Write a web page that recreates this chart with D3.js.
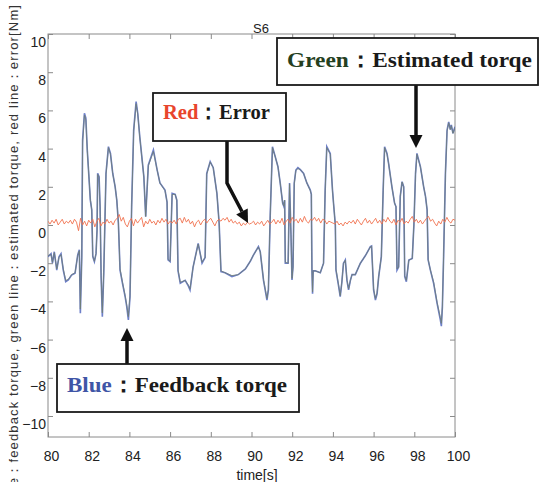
<!DOCTYPE html>
<head>
  <meta http-equiv="Content-Type" content="text/html; charset=utf-8">
  <style>
    body { margin: 0; background: #fff; }
    .tick text { font-family: "Liberation Sans", Arial, sans-serif; font-size: 14px; fill: #222; }
    .tick line { stroke: #8a8a8a; }
    .domain { display: none; }
  </style>
</head>
<body></body>
<script src="https://d3js.org/d3.v7.min.js"></script>
<script>

var width = 544,
    height = 482;

// (s, Nm)
var time = [80.0, 80.15, 80.22, 80.31, 80.43, 80.54, 80.64, 80.75, 80.87, 81.0, 81.16, 81.33, 81.46, 81.54, 81.59, 81.66, 81.7, 81.79, 81.86, 81.93,
            82.02, 82.08, 82.15, 82.2, 82.28, 82.36, 82.41, 82.44, 82.51, 82.56, 82.61, 82.67, 82.74, 82.85, 82.97, 83.07, 83.18, 83.3, 83.38, 83.46,
            83.54, 83.66, 83.79, 83.87, 83.95, 84.03, 84.11, 84.21, 84.33, 84.41, 84.51, 84.61, 84.71, 84.77, 84.8, 84.93, 85.18, 85.36, 85.5, 85.75,
            85.85, 85.9, 86.0, 86.1, 86.25, 86.33, 86.39, 86.5, 86.74, 86.9, 86.98, 87.13, 87.38, 87.48, 87.57, 87.72, 87.8, 87.97, 88.12, 88.3,
            88.41, 88.5, 88.7, 89.04, 89.35, 89.7, 89.94, 90.08, 90.34, 90.43, 90.59, 90.76, 90.83, 90.92, 91.03, 91.16, 91.3, 91.41, 91.53, 91.58,
            91.63, 91.66, 91.8, 91.87, 91.94, 91.99, 92.04, 92.1, 92.18, 92.28, 92.4, 92.56, 92.72, 92.89, 92.94, 92.97, 93.0, 93.03, 93.13, 93.38,
            93.54, 93.62, 93.7, 93.87, 93.98, 94.03, 94.12, 94.15, 94.28, 94.36, 94.44, 94.52, 94.61, 94.69, 94.77, 94.86, 94.94, 95.1, 95.35, 95.6,
            95.84, 95.9, 95.94, 96.0, 96.09, 96.17, 96.25, 96.38, 96.47, 96.54, 96.66, 96.74, 96.9, 97.03, 97.1, 97.15, 97.23, 97.31, 97.4, 97.48,
            97.53, 97.61, 97.73, 97.9, 97.98, 98.06, 98.13, 98.3, 98.46, 98.55, 98.63, 98.68, 98.79, 98.95, 99.12, 99.28, 99.33, 99.38, 99.44, 99.53,
            99.61, 99.69, 99.77, 99.82, 99.9, 100.0];

var feedback = [-1.66, -1.5, -2.0, -1.4, -2.36, -1.66, -1.5, -2.36, -2.97, -2.88, -2.62, -2.53, -1.57, -1.3, -4.62, -1.66, 4.45, 5.85, 5.6, 3.93,
                2.36, 1.3, 0.79, -1.66, -1.92, -1.5, -0.26, 2.71, 2.53, 0.96, -2.71, -4.8, -2.53, 2.71, 4.1, 3.75, 2.71, 2.0, 1.3, 0.08,
                -2.36, -3.05, -3.75, -4.27, -4.97, -3.75, 0.96, 4.97, 6.46, 5.85, 4.62, 3.58, 2.53, 1.13, 0.43, 3.14, 3.93, 2.9, 2.2, 1.83,
                1.2, -1.83, -1.92, 1.66, 1.6, 1.3, -2.4, -3.05, -2.9, -3.2, -3.4, -2.2, -0.96, -1.5, -2.0, -1.7, 2.7, 3.32, 3.0, 1.66,
                0.09, -2.44, -2.5, -2.7, -2.6, -2.3, -1.9, -1.6, -1.13, -1.4, -2.9, -3.93, -3.4, 0.5, 4.1, 3.6, 3.05, 2.2, 1.15, 1.0,
                1.3, -2.0, -2.0, 2.2, -0.5, -2.88, -2.2, 2.2, 2.88, 3.0, 2.9, 2.7, 2.2, 1.83, 1.6, -2.36, -3.6, -2.4, -2.4, -2.5,
                -2.0, 1.83, 4.1, 3.75, 1.83, 1.15, 0.0, -2.36, -3.2, -3.75, -3.0, -2.0, -1.83, -2.9, -3.4, -2.9, -2.6, -2.6, -2.0, -1.6,
                -1.13, -1.1, -2.0, -3.4, -3.93, -3.6, -2.7, -1.66, 1.83, 4.1, 3.75, 3.2, 2.0, 1.15, 0.96, -2.36, -2.2, 1.5, 2.27, 2.0,
                -2.7, -2.97, -1.83, -1.75, 0.0, 2.7, 3.75, 3.05, 2.0, 1.5, 0.79, -1.83, -2.36, -3.05, -4.1, -4.97, -5.3, -4.3, -1.66, 2.71,
                4.97, 5.4, 5.0, 5.24, 4.8, 5.15];

var estimated = [-1.6, -1.55, -1.95, -1.45, -2.3, -1.7, -1.55, -2.3, -2.9, -2.85, -2.6, -2.5, -1.6, -1.35, -4.4, -1.7, 4.3, 5.75, 5.5, 3.9,
                 2.4, 1.35, 0.8, -1.6, -1.9, -1.5, -0.3, 2.65, 2.5, 0.95, -2.65, -4.6, -2.5, 2.65, 4.05, 3.7, 2.7, 2.0, 1.3, 0.1,
                 -2.3, -3.0, -3.7, -4.2, -4.8, -3.7, 0.9, 4.9, 6.35, 5.8, 4.6, 3.55, 2.5, 1.15, 0.45, 3.1, 3.85, 2.9, 2.2, 1.8,
                 1.2, -1.8, -1.9, 1.6, 1.6, 1.3, -2.35, -3.0, -2.9, -3.15, -3.35, -2.2, -1.0, -1.5, -1.95, -1.7, 2.65, 3.3, 3.0, 1.65,
                 0.1, -2.4, -2.5, -2.65, -2.6, -2.3, -1.9, -1.6, -1.15, -1.4, -2.85, -3.85, -3.35, 0.5, 4.05, 3.6, 3.05, 2.2, 1.15, 1.0,
                 1.3, -1.95, -2.0, 2.15, -0.5, -2.8, -2.2, 2.15, 2.85, 2.95, 2.9, 2.7, 2.2, 1.8, 1.6, -2.3, -3.5, -2.4, -2.4, -2.5,
                 -2.0, 1.8, 4.05, 3.7, 1.8, 1.15, 0.0, -2.3, -3.15, -3.7, -3.0, -2.0, -1.85, -2.85, -3.35, -2.9, -2.6, -2.6, -2.0, -1.6,
                 -1.15, -1.1, -2.0, -3.35, -3.85, -3.55, -2.7, -1.65, 1.8, 4.05, 3.7, 3.2, 2.0, 1.15, 0.95, -2.3, -2.2, 1.5, 2.25, 2.0,
                 -2.65, -2.9, -1.85, -1.75, 0.0, 2.65, 3.7, 3.05, 2.0, 1.5, 0.8, -1.8, -2.35, -3.0, -4.05, -4.85, -5.15, -4.25, -1.65, 2.65,
                 4.9, 5.35, 5.0, 5.2, 4.8, 5.1];

// error, one value every 0.1 s from 80 to 100
var errorStart = 80, errorStep = 0.1;
var error = [0.2, 0.05, 0.25, 0.1, 0.3, 0.0, 0.15, 0.3, 0.05, 0.2,
             0.1, 0.25, 0.05, 0.3, 0.15, -0.3, 0.35, 0.0, 0.2, -0.05,
             0.25, 0.1, 0.3, -0.1, 0.2, 0.35, -0.05, 0.15, 0.05, 0.3,
             0.1, 0.2, 0.0, 0.25, 0.35, 0.55, 0.2, 0.4, 0.05, -0.1,
             0.2, 0.35, -0.05, 0.3, 0.1, 0.25, 0.4, -0.1, 0.2, 0.05,
             0.3, 0.1, 0.2, 0.0, 0.25, 0.1, 0.35, 0.15, 0.3, 0.05,
             0.2, 0.1, 0.25, 0.05, 0.3, 0.35, 0.1, 0.4, 0.15, 0.3,
             0.05, 0.2, -0.1, 0.15, 0.25, 0.0, 0.2, 0.3, 0.1, 0.25,
             0.35, 0.15, -0.05, 0.2, 0.3, 0.2, 0.35, 0.25, 0.4, 0.15,
             0.3, 0.1, 0.2, 0.05, 0.15, -0.05, 0.1, 0.0, 0.15, 0.05,
             0.1, 0.2, 0.0, 0.15, 0.05, 0.2, -0.05, 0.1, 0.25, 0.05,
             0.15, 0.3, 0.05, 0.25, 0.1, 0.35, 0.0, 0.2, 0.3, 0.1,
             0.4, 0.2, 0.3, 0.1, 0.35, 0.15, 0.45, 0.2, 0.1, 0.3,
             0.25, 0.4, 0.2, 0.35, 0.1, 0.3, 0.25, 0.05, 0.2, 0.15,
             0.1, 0.05, 0.2, 0.0, 0.1, -0.05, 0.15, 0.05, 0.2, 0.1,
             0.25, 0.05, 0.3, 0.15, 0.0, 0.2, 0.35, 0.1, 0.25, 0.05,
             0.2, 0.35, 0.1, 0.25, 0.05, 0.3, 0.15, 0.4, 0.2, 0.1,
             0.3, 0.0, 0.25, 0.15, 0.35, 0.05, 0.2, 0.1, 0.3, 0.45,
             0.15, 0.3, 0.1, 0.25, 0.05, 0.2, 0.35, 0.45, 0.2, 0.3,
             0.1, -0.05, 0.2, 0.05, 0.3, 0.15, 0.4, 0.2, 0.1, 0.3, 0.25];

var xTicks = [80, 82, 84, 86, 88, 90, 92, 94, 96, 98, 100];
var yTicks = [-10, -8, -6, -4, -2, 0, 2, 4, 6, 8, 10];

var title = "S6",
    xLabel = "time[s]",
    yLabel = "blue line\uff1afeedback torque, green line\uff1aestimated torque, red line\uff1aerror[Nm]";

// callouts: coloured word, rest of the text
var notes = [
  {word: "Green", rest: "\uff1aEstimated torqe", color: "#24401f", box: [277, 38, 538, 85], text: [287, 67, 245], arrow: [[416, 85], [416, 148]]},
  {word: "Red",   rest: "\uff1aError",           color: "#e8452c", box: [153, 93, 286, 141], text: [163, 119, 107], arrow: [[227, 141], [227, 183], [248, 223]]},
  {word: "Blue",  rest: "\uff1aFeedback torqe",  color: "#3f55a6", box: [57, 364, 299, 412], text: [67, 392, 220], arrow: [[127, 364], [127, 328]]}
];

var pLeft = 48, pRight = 455, pTop = 34, pBottom = 437;

var xs = d3.scaleLinear().domain([80, 100]).range([pLeft, pRight]);
var ys = d3.scaleLinear().domain([-11.1, 10]).range([pBottom, pTop]);

var svg = d3.select("body").append("svg")
    .attr("width", width)
    .attr("height", height);

// frame
svg.append("rect")
    .attr("x", pLeft).attr("y", pTop)
    .attr("width", pRight - pLeft).attr("height", pBottom - pTop)
    .attr("fill", "none").attr("stroke", "#8a8a8a").attr("stroke-width", 1);

// axes with ticks pointing in
var ax = svg.append("g").attr("transform", "translate(" + pLeft + ",0)")
    .call(d3.axisLeft(ys).tickValues(yTicks).tickSize(-5).tickPadding(2));
ax.selectAll("text").attr("dy", "0.32em").attr("y", 8);
svg.append("g").attr("transform", "translate(" + pRight + ",0)")
    .call(d3.axisRight(ys).tickValues(yTicks).tickSize(-5).tickFormat(""));
var bx = svg.append("g").attr("transform", "translate(0," + pBottom + ")")
    .call(d3.axisBottom(xs).tickValues(xTicks).tickSize(-5).tickPadding(14));
bx.selectAll("text").attr("x", 3);
svg.append("g").attr("transform", "translate(0," + pTop + ")")
    .call(d3.axisTop(xs).tickValues(xTicks).tickSize(-5).tickFormat(""));

// lines
var line = d3.line().x(function(d){return xs(d[0]);}).y(function(d){return ys(d[1]);});
svg.append("clipPath").attr("id", "plot").append("rect")
    .attr("x", pLeft).attr("y", pTop).attr("width", pRight - pLeft).attr("height", pBottom - pTop);

var plot = svg.append("g").attr("clip-path", "url(#plot)");

plot.append("path")
    .attr("d", line(time.map(function(t, i){return [t, feedback[i]];})))
    .attr("fill", "none").attr("stroke", "#5468c0").attr("stroke-width", 1.6).attr("stroke-opacity", 0.85);
plot.append("path")
    .attr("d", line(time.map(function(t, i){return [t, estimated[i]];})))
    .attr("fill", "none").attr("stroke", "#6f7d72").attr("stroke-width", 0.8);
plot.append("path")
    .attr("d", line(error.map(function(e, i){return [errorStart + i * errorStep, e];})))
    .attr("fill", "none").attr("stroke", "#f0724f").attr("stroke-width", 0.9);

// titles
svg.append("text")
    .attr("x", 261).attr("y", 33)
    .attr("text-anchor", "middle")
    .style("font-family", "Liberation Sans, Arial, sans-serif").style("font-size", "13px").attr("fill", "#222")
    .text(title);
svg.append("text")
    .attr("x", 257).attr("y", 480)
    .attr("text-anchor", "middle")
    .style("font-family", "Liberation Sans, Arial, sans-serif").style("font-size", "14px").attr("fill", "#222")
    .text(xLabel);
var yl = svg.append("text")
    .attr("transform", "translate(18,5) rotate(-90)")
    .attr("text-anchor", "end")
    .style("font-family", "Liberation Sans, Arial, sans-serif").style("font-size", "13px").attr("fill", "#333")
    .text(yLabel);
// stretch so the visible part (from the first colon) spans the left edge
var yn = yl.node();
var cut = yLabel.indexOf("\uff1a");
var full = yn.getComputedTextLength();
var vis = yn.getSubStringLength(cut, yLabel.length - cut);
yl.attr("textLength", full * 473 / vis).attr("lengthAdjust", "spacing");

// callouts
notes.forEach(function(n){
  var pts = n.arrow;
  var a = pts[pts.length - 2], b = pts[pts.length - 1];
  var ang = Math.atan2(b[1] - a[1], b[0] - a[0]);
  var hl = 13, hw = 6.5;
  var base = [b[0] - hl * Math.cos(ang), b[1] - hl * Math.sin(ang)];
  var shaft = pts.slice(0, -1).concat([base]);
  svg.append("path")
      .attr("d", d3.line()(shaft))
      .attr("fill", "none").attr("stroke", "#111").attr("stroke-width", 3.5).attr("stroke-linejoin", "miter");
  svg.append("path")
      .attr("d", d3.line()([b,
          [base[0] + hw * Math.sin(ang), base[1] - hw * Math.cos(ang)],
          [base[0] - hw * Math.sin(ang), base[1] + hw * Math.cos(ang)]]) + "Z")
      .attr("fill", "#111");

  svg.append("rect")
      .attr("x", n.box[0]).attr("y", n.box[1])
      .attr("width", n.box[2] - n.box[0]).attr("height", n.box[3] - n.box[1])
      .attr("fill", "#fff").attr("stroke", "#1a1a1a").attr("stroke-width", 1.8);
  var t = svg.append("text")
      .attr("x", n.text[0]).attr("y", n.text[1])
      .attr("textLength", n.text[2]).attr("lengthAdjust", "spacingAndGlyphs")
      .style("font-family", "Liberation Serif, DejaVu Serif, serif").style("font-size", "22px").style("font-weight", "bold")
      .attr("fill", "#1a1a1a");
  t.append("tspan").attr("fill", n.color).text(n.word);
  t.append("tspan").text(n.rest);
});

</script>
</html>
